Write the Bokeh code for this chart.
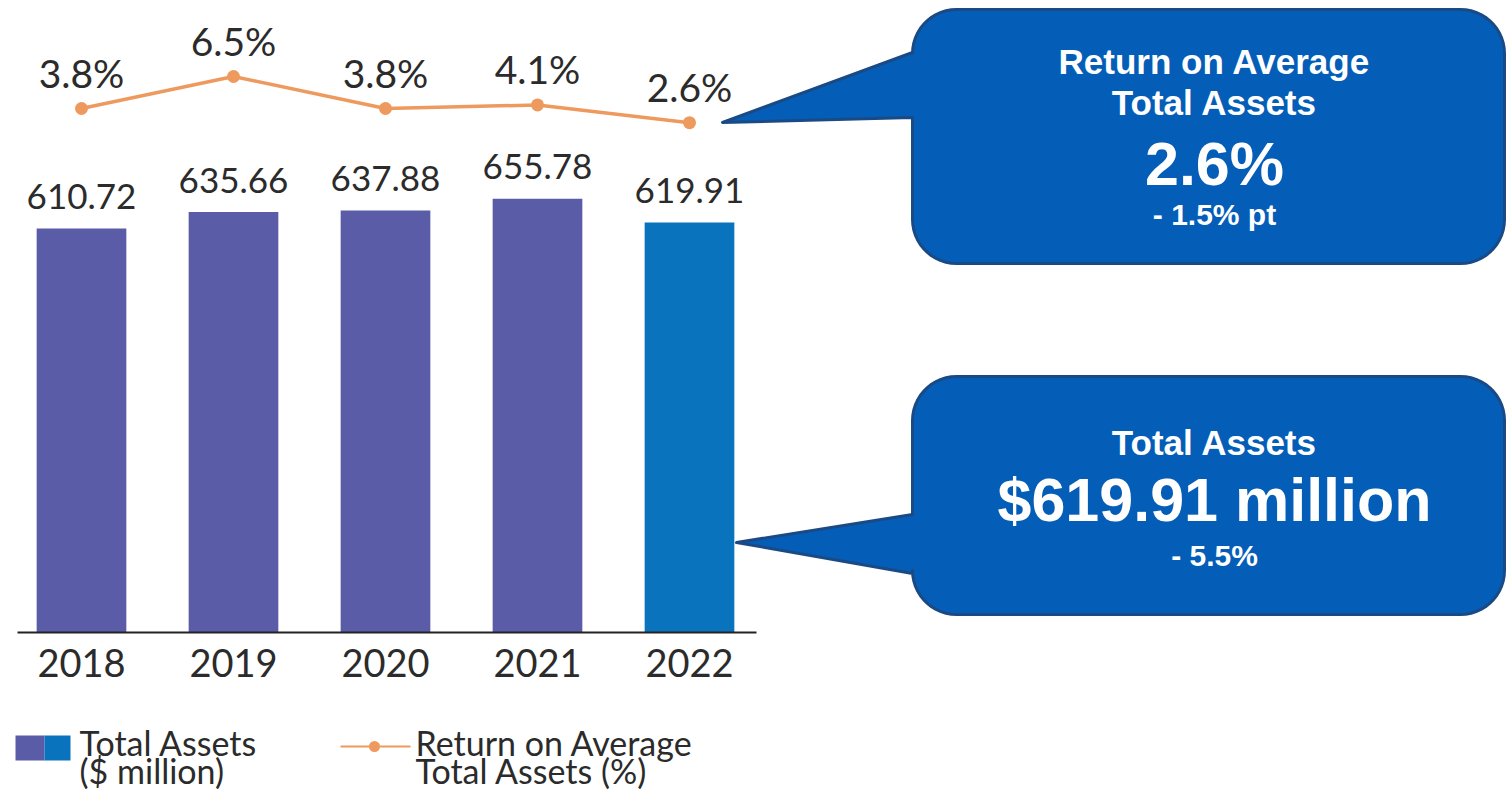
import numpy as np
from bokeh.plotting import figure
from bokeh.models import Range1d, FixedTicker, ColumnDataSource
from bokeh.core.properties import value
from bokeh.embed import file_html
from bokeh.resources import INLINE

# ---------------- data ----------------
years = [2018, 2019, 2020, 2021, 2022]
total_assets = [610.72, 635.66, 637.88, 655.78, 619.91]
asset_labels = ["610.72", "635.66", "637.88", "655.78", "619.91"]
roa = [3.8, 6.5, 3.8, 4.1, 2.6]
roa_labels = ["3.8%", "6.5%", "3.8%", "4.1%", "2.6%"]
bar_colors = ["#5A5CA8", "#5A5CA8", "#5A5CA8", "#5A5CA8", "#0A73BD"]

callout1_lines = ["Return on Average", "Total Assets", "2.6%", "- 1.5% pt"]
callout2_lines = ["Total Assets", "$619.91 million", "- 5.5%"]
legend1_lines = ["Total Assets", "($ million)"]
legend2_lines = ["Return on Average", "Total Assets (%)"]

# ---------------- styles ----------------
TXT = "#2b2b2b"
ORANGE = "#EE9A5E"
BOX_FILL = "#045DB7"
BOX_LINE = "#1A4A85"
CHART_FONT = "Lato"
BOX_FONT = "Liberation Sans"

W, H = 1506, 793
PX_PER_YEAR = 152.0
BAR_PX = 0.6615      # px per $ million
PCT_PX = 11.85       # px per percentage point
x0 = 2018 - 81 / PX_PER_YEAR
y0 = -(H - 632) / BAR_PX
pct_end = 3.8 + 108 / PCT_PX

p = figure(width=W, height=H,
           x_range=Range1d(x0, x0 + W / PX_PER_YEAR),
           y_range=Range1d(y0, y0 + H / BAR_PX),
           output_backend="svg", toolbar_location=None, tools="",
           y_axis_location=None, min_border=0)
p.extra_y_ranges = {"pct": Range1d(pct_end - H / PCT_PX, pct_end), "px": Range1d(H, 0)}
p.extra_x_ranges = {"px": Range1d(0, W)}
p.outline_line_color = None
p.grid.visible = False
p.background_fill_color = "white"
p.border_fill_color = "white"

# bars
bsrc = ColumnDataSource(dict(x=years, top=total_assets, lab=asset_labels, color=bar_colors))
p.vbar(x="x", top="top", bottom=0, width=0.59, fill_color="color", line_color=None, source=bsrc)
p.text(x="x", y="top", text="lab", source=bsrc, text_align="center", text_baseline="middle",
       y_offset=-32, text_font=value(CHART_FONT), text_font_size="35px", text_color=TXT)

# x axis
ax = p.xaxis[0]
ax.fixed_location = 0
ax.ticker = FixedTicker(ticks=years)
ax.bounds = (2018 - 64 / PX_PER_YEAR, 2018 + 675 / PX_PER_YEAR)
ax.axis_line_color = "#222222"
ax.axis_line_width = 2
ax.major_tick_line_color = None
ax.minor_tick_line_color = None
ax.major_label_text_font = CHART_FONT
ax.major_label_text_font_size = "38px"
ax.major_label_text_color = TXT
ax.major_label_standoff = 10

# line
lsrc = ColumnDataSource(dict(x=years, y=roa, lab=roa_labels))
p.line(x="x", y="y", source=lsrc, y_range_name="pct", line_color=ORANGE, line_width=3.5)
p.scatter(x="x", y="y", source=lsrc, y_range_name="pct", size=13, fill_color=ORANGE, line_color=None)
p.text(x="x", y="y", text="lab", source=lsrc, y_range_name="pct", text_align="center",
       text_baseline="middle", y_offset=-36, text_font=value(CHART_FONT),
       text_font_size="39px", text_color=TXT)


# ---------------- callouts ----------------
def callout_path(bx0, by0, bx1, by1, r, ya, yb, tx, ty, n=14):
    pts = [(bx0, ya), (bx0, by0 + r)]
    def arc(cx, cy, a0, a1):
        for t in np.linspace(a0, a1, n):
            pts.append((cx + r * np.cos(t), cy + r * np.sin(t)))
    arc(bx0 + r, by0 + r, np.pi, 1.5 * np.pi)
    arc(bx1 - r, by0 + r, 1.5 * np.pi, 2 * np.pi)
    arc(bx1 - r, by1 - r, 0, 0.5 * np.pi)
    arc(bx0 + r, by1 - r, 0.5 * np.pi, np.pi)
    pts.append((bx0, yb))
    pts.append((tx, ty))
    pts.append((bx0, ya))
    xs, ys = zip(*pts)
    return list(xs), list(ys)


c1x, c1y = callout_path(912, 9, 1504, 263, 44, 52, 117, 722, 122)
c2x, c2y = callout_path(912, 376, 1504, 614, 44, 514, 573, 736, 542)
for xs, ys in [(c1x, c1y), (c2x, c2y)]:
    p.patch(xs, ys, x_range_name="px", y_range_name="px", fill_color=BOX_FILL,
            line_color=BOX_LINE, line_width=3, line_join="round")

c1 = ColumnDataSource(dict(x=[1214] * 4, y=[61, 102, 163, 214], t=callout1_lines,
                           s=["35px", "35px", "61px", "30px"]))
c2 = ColumnDataSource(dict(x=[1214] * 3, y=[442, 499, 555], t=callout2_lines,
                           s=["35px", "61px", "30px"]))
for src in (c1, c2):
    p.text(x="x", y="y", text="t", source=src, x_range_name="px", y_range_name="px",
           text_align="center", text_baseline="middle", text_font=value(BOX_FONT),
           text_font_style="bold", text_font_size="s", text_color="white")

# ---------------- legend ----------------
p.quad(left=[15, 44], right=[44, 70], top=[735, 735], bottom=[760, 760],
       fill_color=["#5A5CA8", "#0A73BD"], line_color=None, x_range_name="px", y_range_name="px")
p.line([340, 410], [746, 746], x_range_name="px", y_range_name="px", line_color=ORANGE, line_width=2)
p.scatter([374], [746], x_range_name="px", y_range_name="px", size=11, fill_color=ORANGE, line_color=None)
lg = ColumnDataSource(dict(x=[79, 79, 415, 415], y=[742, 770, 742, 770],
                           t=legend1_lines + legend2_lines))
p.text(x="x", y="y", text="t", source=lg, x_range_name="px", y_range_name="px",
       text_align="left", text_baseline="middle", text_font=value(CHART_FONT),
       text_font_size="34px", text_color=TXT)

open("out.html", "w").write(file_html(p, INLINE))
